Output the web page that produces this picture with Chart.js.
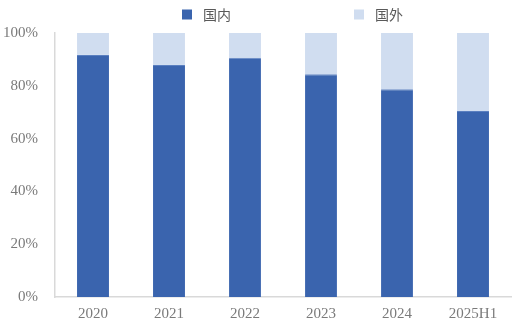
<!DOCTYPE html>
<html>
<head>
<meta charset="utf-8">
<script src="https://cdn.jsdelivr.net/npm/chart.js@4/dist/chart.umd.min.js"></script>
<style>
  html, body { margin: 0; padding: 0; background: #fff; }
  #wrap { width: 521px; height: 327px; position: relative; }
</style>
</head>
<body>
<div id="wrap"><canvas id="c"></canvas></div>
<script>
// Share of revenue: domestic vs. overseas (percent)
const categories = ['2020', '2021', '2022', '2023', '2024', '2025H1'];
const domestic = [91.7, 87.9, 90.6, 84.4, 78.7, 70.5];
const overseas = domestic.map(v => +(100 - v).toFixed(1));
const seriesNames = ['国内', '国外'];
const yTicks = [0, 20, 40, 60, 80, 100];

const colors = ['#3A64AE', '#D0DDF0'];
const tickFont = { family: '"Liberation Serif", "DejaVu Serif", serif', size: 15 };

// Legend drawn across the top from the dataset names and colours
const topLegend = {
  id: 'topLegend',
  afterDraw(chart) {
    const ctx = chart.ctx;
    const area = chart.chartArea;
    const startX = area.left + 127;
    const step = 172;
    const cy = 14.5;
    ctx.save();
    ctx.font = '14px "Noto Sans CJK SC", sans-serif';
    ctx.textBaseline = 'middle';
    ctx.textAlign = 'left';
    chart.data.datasets.forEach((ds, i) => {
      const x = startX + i * step;
      ctx.fillStyle = ds.backgroundColor;
      ctx.fillRect(x, cy - 5, 10, 10);
      ctx.fillStyle = '#595959';
      ctx.fillText(ds.label, x + 21, cy);
    });
    ctx.restore();
  }
};

new Chart(document.getElementById('c'), {
  type: 'bar',
  data: {
    labels: categories,
    datasets: [
      { label: seriesNames[0], data: domestic, backgroundColor: colors[0],
        borderColor: '#5a7fc0', borderWidth: { top: 1, left: 0, right: 0, bottom: 0 },
        barPercentage: 0.42, categoryPercentage: 1 },
      { label: seriesNames[1], data: overseas, backgroundColor: colors[1],
        borderWidth: 0, barPercentage: 0.42, categoryPercentage: 1 }
    ]
  },
  options: {
    responsive: true,
    maintainAspectRatio: false,
    animation: false,
    devicePixelRatio: 1,
    layout: { padding: { top: 33, right: 10, left: 0, bottom: 0 } },
    plugins: { legend: { display: false }, tooltip: { enabled: false } },
    scales: {
      x: {
        stacked: true,
        grid: { display: false, drawTicks: false },
        border: { display: true, color: '#d9d9d9', width: 1.5 },
        ticks: { color: '#7a7a7a', font: tickFont, padding: 8, maxRotation: 0 },
        afterFit(s) { s.height = 30; }
      },
      y: {
        stacked: true,
        min: 0,
        max: 100,
        afterBuildTicks(s) { s.ticks = yTicks.map(v => ({ value: v })); },
        grid: { display: false, drawTicks: false },
        border: { display: true, color: '#d9d9d9', width: 1.5 },
        ticks: { color: '#7a7a7a', font: tickFont, padding: 17, callback: v => v + '%' },
        afterFit(s) { s.width = 55; }
      }
    }
  },
  plugins: [topLegend]
});
</script>
</body>
</html>
